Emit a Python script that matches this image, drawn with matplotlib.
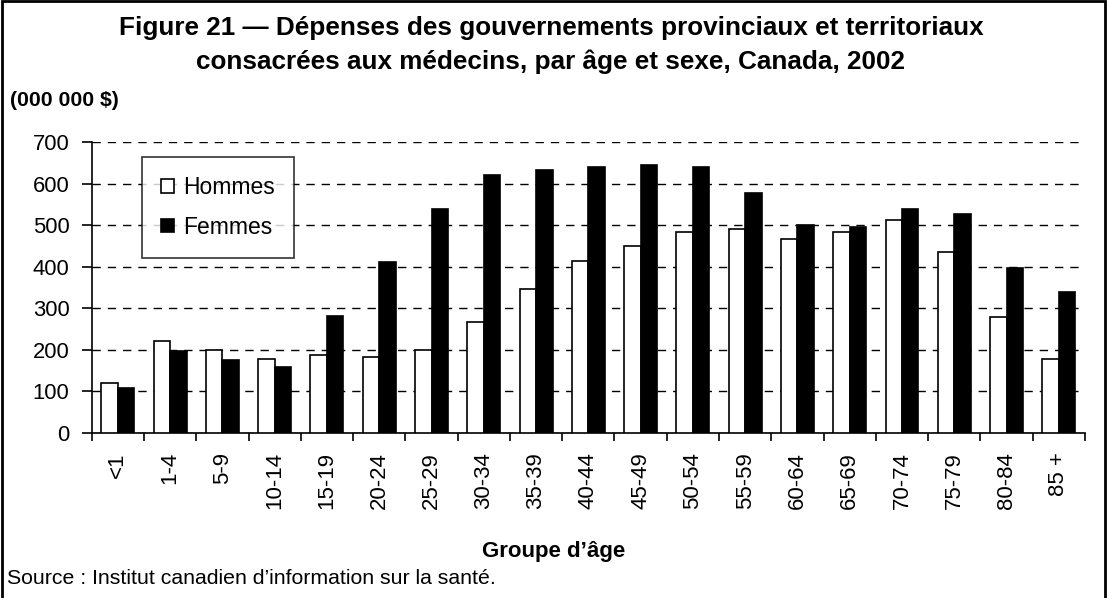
import numpy as np
import matplotlib.pyplot as plt
from matplotlib.patches import Rectangle

plt.rcParams['font.family'] = ['Liberation Sans', 'DejaVu Sans']

# Data (millions of dollars)
age_groups = ['<1', '1-4', '5-9', '10-14', '15-19', '20-24', '25-29', '30-34', '35-39',
              '40-44', '45-49', '50-54', '55-59', '60-64', '65-69', '70-74', '75-79',
              '80-84', '85 +']
hommes = [119, 221, 199, 178, 187, 182, 199, 268, 347, 415, 449, 484, 492, 467, 484,
          513, 436, 280, 178]
femmes = [107, 198, 175, 158, 281, 411, 540, 620, 633, 641, 646, 641, 578, 501, 497,
          539, 527, 396, 340]

W, H = 1107, 598
fig = plt.figure(figsize=(W / 100, H / 100), dpi=100)

# outer frame (open at the bottom)
fig.patches.append(Rectangle((1.5 / W, -0.05), (W - 4) / W, 1.05 - 1.5 / H,
                             transform=fig.transFigure, fill=False,
                             edgecolor='black', linewidth=2))

ax = fig.add_axes([91.7 / W, 1 - 432.7 / H, (1085 - 91.7) / W, (432.7 - 142.3) / H])

x = np.arange(len(age_groups))
bw = 0.315
ax.bar(x - bw / 2, hommes, bw, color='white', edgecolor='black', linewidth=1.2,
       label='Hommes', zorder=3)
ax.bar(x + bw / 2, femmes, bw, color='black', edgecolor='black', linewidth=1.2,
       label='Femmes', zorder=3)

ax.set_xlim(-0.5, len(age_groups) - 0.5)
ax.set_ylim(0, 700)
ax.set_yticks(range(0, 701, 100))
ax.yaxis.grid(True, linestyle=(0, (6, 5)), color='black', linewidth=1)
ax.set_axisbelow(True)

for s in ['top', 'right']:
    ax.spines[s].set_visible(False)
ax.spines['left'].set_linewidth(1.2)
ax.spines['bottom'].set_linewidth(1.2)

# ticks between categories, labels at centres
ax.set_xticks(np.arange(-0.5, len(age_groups), 1.0))
ax.set_xticklabels([])
ax.set_xticks(x, minor=True)
ax.set_xticklabels(age_groups, minor=True, rotation=90, fontsize=16)
ax.tick_params(axis='x', which='major', length=6, width=1.2, direction='out')
ax.tick_params(axis='x', which='minor', length=0, pad=14)
ax.tick_params(axis='y', length=7, width=1.2, direction='out', labelsize=15.8, pad=9)

ax.legend(loc='upper left', fontsize=16.5, frameon=True, fancybox=False, edgecolor='black',
          handlelength=0.55, handleheight=0.55, handletextpad=0.4, labelspacing=0.7,
          borderpad=0.85, borderaxespad=0)
leg = ax.get_legend()
leg.set_bbox_to_anchor((141.5 / W, 1 - 157 / H), transform=fig.transFigure)
leg.get_frame().set_linewidth(1.2)

fig.text(551 / W, 1 - 28 / H, 'Figure 21 \u2014 Dépenses des gouvernements provinciaux et territoriaux',
         ha='center', va='center', fontsize=18.8, fontweight='bold')
fig.text(551 / W, 1 - 62 / H, 'consacrées aux médecins, par âge et sexe, Canada, 2002',
         ha='center', va='center', fontsize=18.8, fontweight='bold')
fig.text(10 / W, 1 - 100 / H, '(000 000 $)', ha='left', va='center', fontsize=15.3,
         fontweight='bold')
fig.text(554 / W, 1 - 551 / H, 'Groupe d\u2019âge', ha='center', va='center', fontsize=16,
         fontweight='bold')
fig.text(7 / W, 1 - 578 / H, 'Source : Institut canadien d\u2019information sur la santé.',
         ha='left', va='center', fontsize=15.3)

fig.savefig('out.png', dpi=100)
